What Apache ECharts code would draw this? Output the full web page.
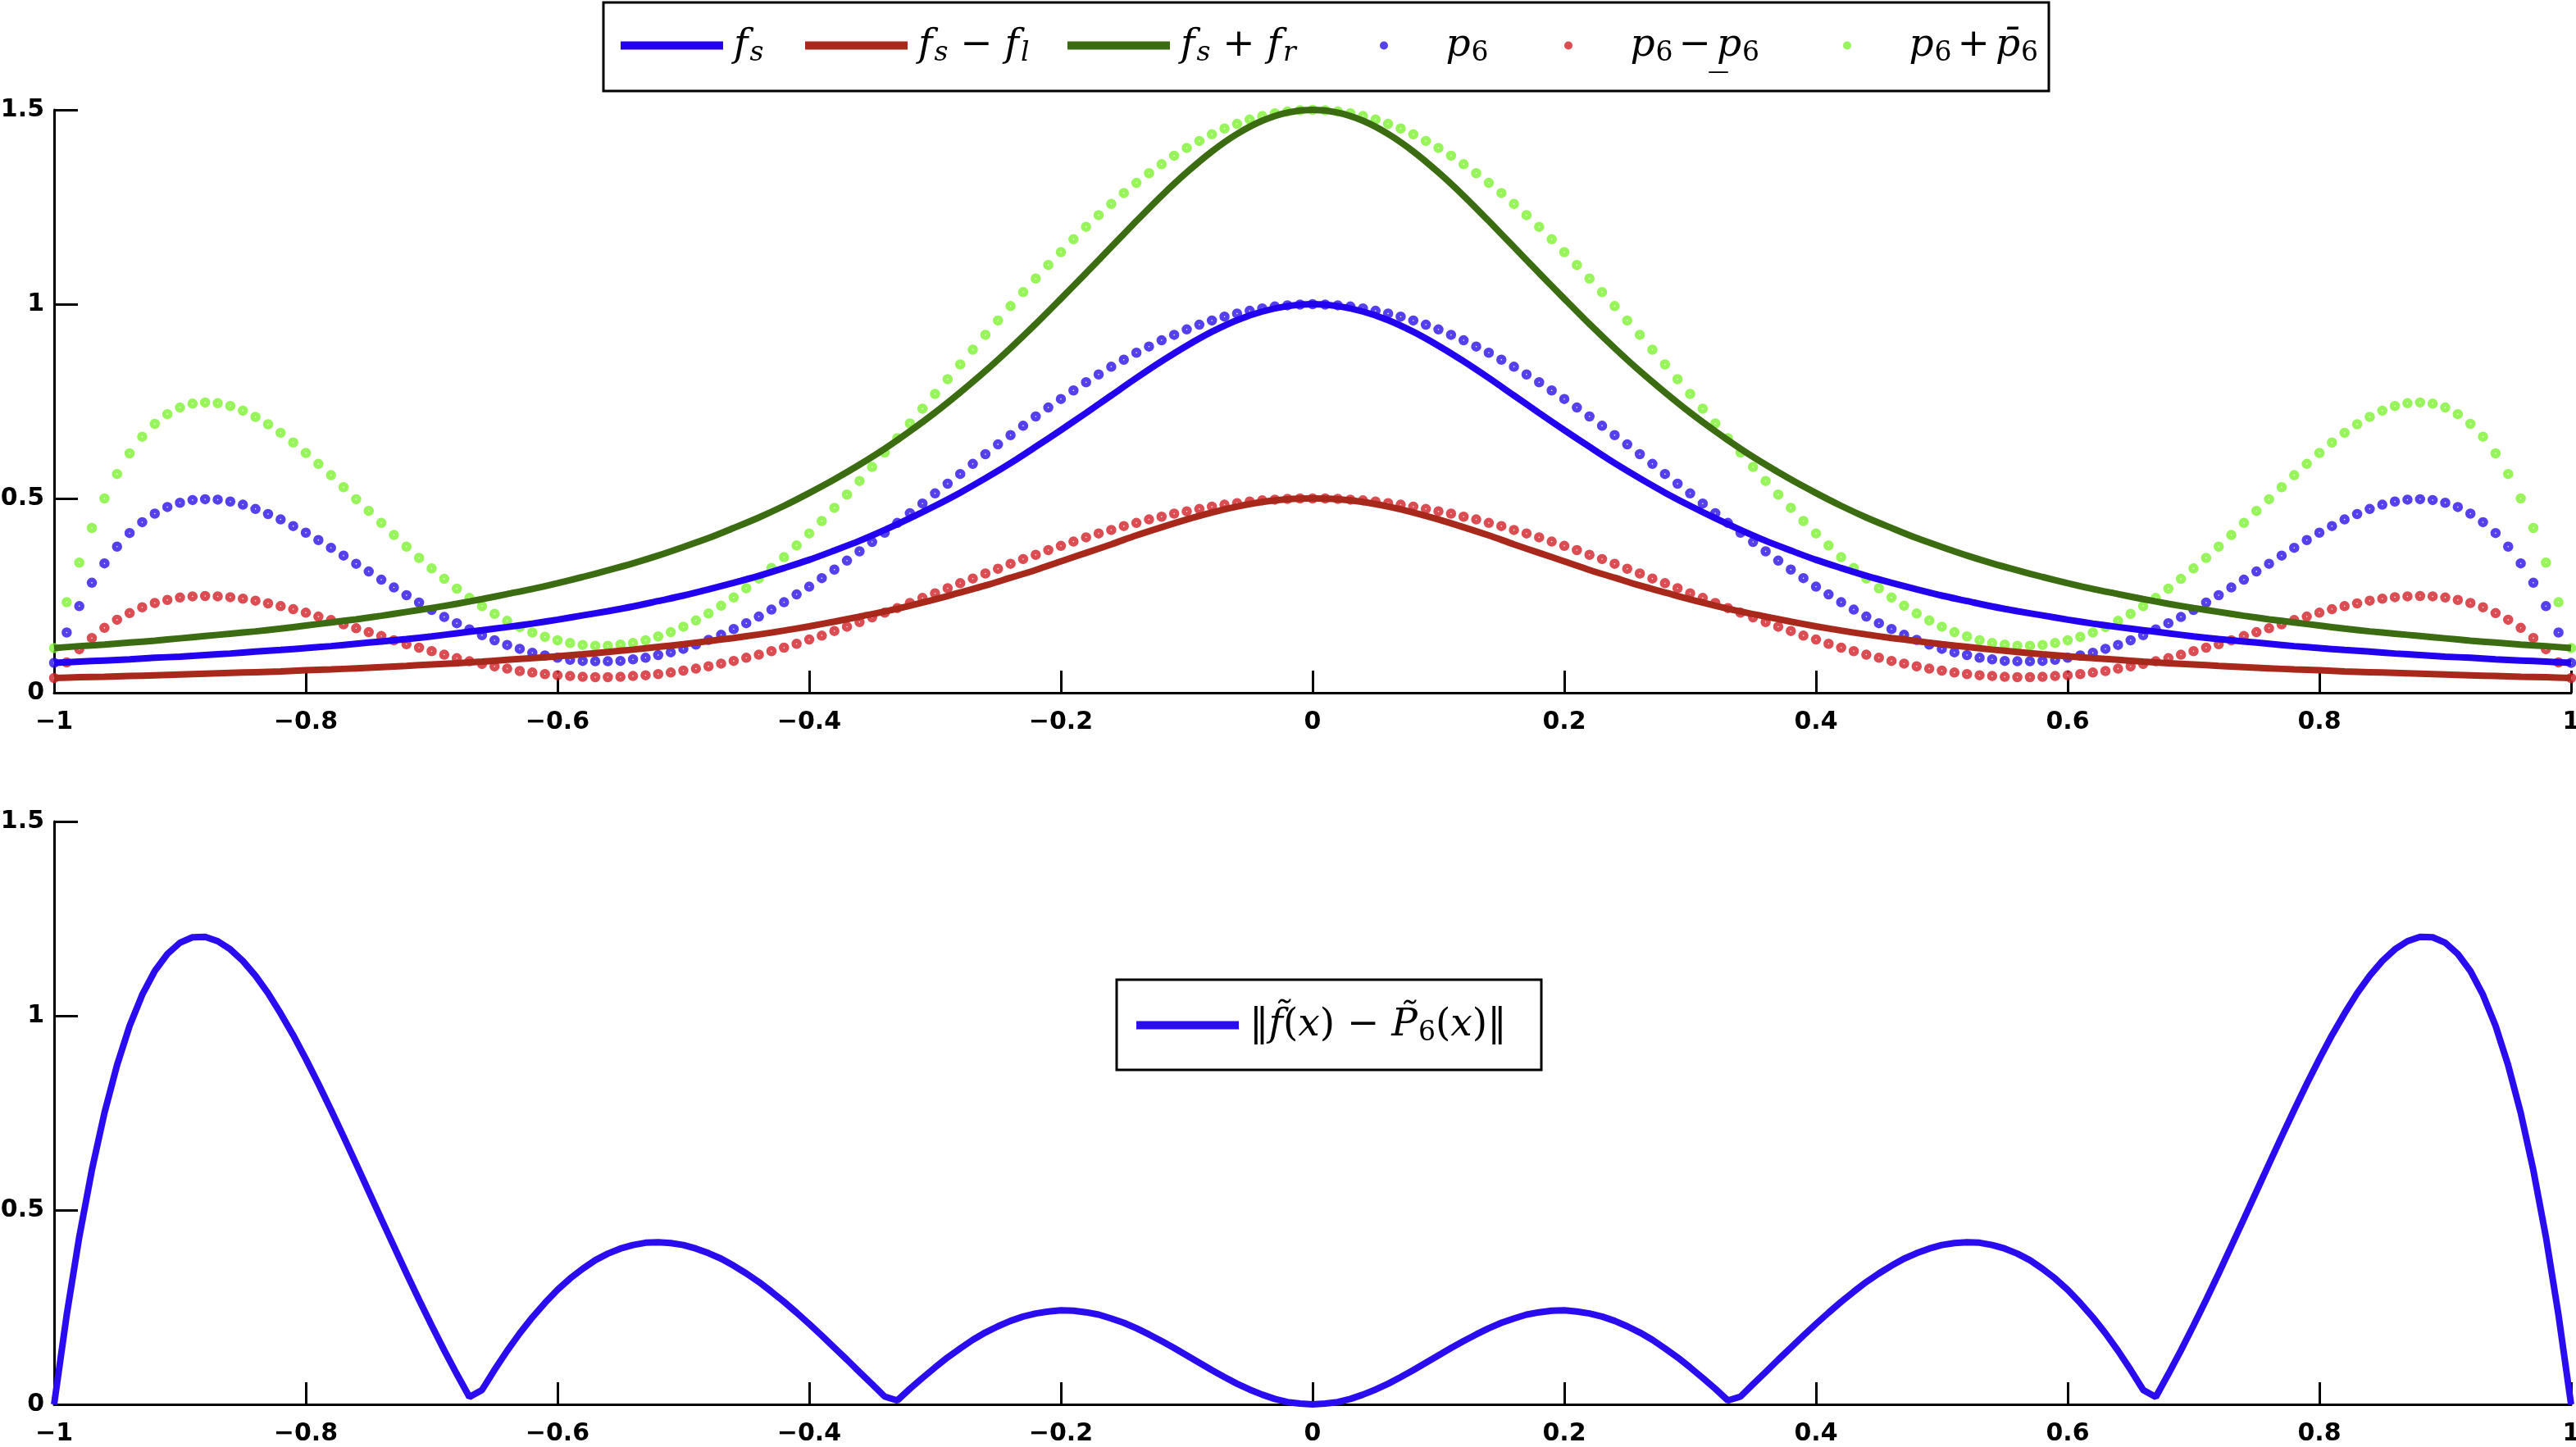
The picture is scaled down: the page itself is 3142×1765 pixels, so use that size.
<!DOCTYPE html>
<html>
<head>
<meta charset="utf-8">
<script src="https://cdn.jsdelivr.net/npm/echarts@6.0.0/dist/echarts.min.js"></script>
<style>
    html, body { margin: 0; padding: 0; background: #fff; }
    #chart { width: 3142px; height: 1765px; }
</style>
</head>
<body>
<div id="chart"></div>
<script>
// x grid shared by the dotted polynomials and the error curve (step 0.01)
const xDots = [
    -1, -0.99, -0.98, -0.97, -0.96, -0.95, -0.94, -0.93, -0.92, -0.91,
    -0.9, -0.89, -0.88, -0.87, -0.86, -0.85, -0.84, -0.83, -0.82, -0.81,
    -0.8, -0.79, -0.78, -0.77, -0.76, -0.75, -0.74, -0.73, -0.72, -0.71,
    -0.7, -0.69, -0.68, -0.67, -0.66, -0.65, -0.64, -0.63, -0.62, -0.61,
    -0.6, -0.59, -0.58, -0.57, -0.56, -0.55, -0.54, -0.53, -0.52, -0.51,
    -0.5, -0.49, -0.48, -0.47, -0.46, -0.45, -0.44, -0.43, -0.42, -0.41,
    -0.4, -0.39, -0.38, -0.37, -0.36, -0.35, -0.34, -0.33, -0.32, -0.31,
    -0.3, -0.29, -0.28, -0.27, -0.26, -0.25, -0.24, -0.23, -0.22, -0.21,
    -0.2, -0.19, -0.18, -0.17, -0.16, -0.15, -0.14, -0.13, -0.12, -0.11,
    -0.1, -0.09, -0.08, -0.07, -0.06, -0.05, -0.04, -0.03, -0.02, -0.01,
    0,
    0.01, 0.02, 0.03, 0.04, 0.05, 0.06, 0.07, 0.08, 0.09, 0.1,
    0.11, 0.12, 0.13, 0.14, 0.15, 0.16, 0.17, 0.18, 0.19, 0.2,
    0.21, 0.22, 0.23, 0.24, 0.25, 0.26, 0.27, 0.28, 0.29, 0.3,
    0.31, 0.32, 0.33, 0.34, 0.35, 0.36, 0.37, 0.38, 0.39, 0.4,
    0.41, 0.42, 0.43, 0.44, 0.45, 0.46, 0.47, 0.48, 0.49, 0.5,
    0.51, 0.52, 0.53, 0.54, 0.55, 0.56, 0.57, 0.58, 0.59, 0.6,
    0.61, 0.62, 0.63, 0.64, 0.65, 0.66, 0.67, 0.68, 0.69, 0.7,
    0.71, 0.72, 0.73, 0.74, 0.75, 0.76, 0.77, 0.78, 0.79, 0.8,
    0.81, 0.82, 0.83, 0.84, 0.85, 0.86, 0.87, 0.88, 0.89, 0.9,
    0.91, 0.92, 0.93, 0.94, 0.95, 0.96, 0.97, 0.98, 0.99, 1
];
const p6 = [
    0.077, 0.155, 0.223, 0.283, 0.333, 0.376, 0.411, 0.439, 0.461, 0.478,
    0.489, 0.496, 0.498, 0.497, 0.492, 0.484, 0.473, 0.460, 0.446, 0.429,
    0.412, 0.393, 0.373, 0.353, 0.332, 0.312, 0.291, 0.271, 0.251, 0.232,
    0.213, 0.195, 0.179, 0.163, 0.148, 0.135, 0.123, 0.113, 0.103, 0.096,
    0.090, 0.085, 0.082, 0.081, 0.081, 0.082, 0.086, 0.090, 0.097, 0.104,
    0.113, 0.124, 0.136, 0.149, 0.164, 0.179, 0.196, 0.214, 0.233, 0.253,
    0.273, 0.295, 0.317, 0.340, 0.364, 0.388, 0.412, 0.437, 0.462, 0.487,
    0.513, 0.538, 0.563, 0.589, 0.614, 0.639, 0.663, 0.687, 0.711, 0.734,
    0.756, 0.778, 0.799, 0.819, 0.839, 0.857, 0.875, 0.891, 0.907, 0.921,
    0.935, 0.947, 0.958, 0.968, 0.976, 0.983, 0.989, 0.994, 0.997, 0.999,
    1.000,
    0.999, 0.997, 0.994, 0.989, 0.983, 0.976, 0.968, 0.958, 0.947, 0.935,
    0.921, 0.907, 0.891, 0.875, 0.857, 0.839, 0.819, 0.799, 0.778, 0.756,
    0.734, 0.711, 0.687, 0.663, 0.639, 0.614, 0.589, 0.563, 0.538, 0.513,
    0.487, 0.462, 0.437, 0.412, 0.388, 0.364, 0.340, 0.317, 0.295, 0.273,
    0.253, 0.233, 0.214, 0.196, 0.179, 0.164, 0.149, 0.136, 0.124, 0.113,
    0.104, 0.097, 0.090, 0.086, 0.082, 0.081, 0.081, 0.082, 0.085, 0.090,
    0.096, 0.103, 0.113, 0.123, 0.135, 0.148, 0.163, 0.179, 0.195, 0.213,
    0.232, 0.251, 0.271, 0.291, 0.312, 0.332, 0.353, 0.373, 0.393, 0.412,
    0.429, 0.446, 0.460, 0.473, 0.484, 0.492, 0.497, 0.498, 0.496, 0.489,
    0.478, 0.461, 0.439, 0.411, 0.376, 0.333, 0.283, 0.223, 0.155, 0.077
];
const p6Low = [
    0.038, 0.078, 0.112, 0.141, 0.167, 0.188, 0.205, 0.220, 0.231, 0.239,
    0.245, 0.248, 0.249, 0.248, 0.246, 0.242, 0.237, 0.230, 0.223, 0.215,
    0.206, 0.196, 0.187, 0.176, 0.166, 0.156, 0.146, 0.135, 0.125, 0.116,
    0.107, 0.098, 0.089, 0.081, 0.074, 0.068, 0.062, 0.056, 0.052, 0.048,
    0.045, 0.043, 0.041, 0.040, 0.040, 0.041, 0.043, 0.045, 0.048, 0.052,
    0.057, 0.062, 0.068, 0.075, 0.082, 0.090, 0.098, 0.107, 0.116, 0.126,
    0.137, 0.147, 0.159, 0.170, 0.182, 0.194, 0.206, 0.218, 0.231, 0.244,
    0.256, 0.269, 0.282, 0.294, 0.307, 0.319, 0.332, 0.344, 0.355, 0.367,
    0.378, 0.389, 0.400, 0.410, 0.419, 0.429, 0.437, 0.446, 0.453, 0.461,
    0.467, 0.473, 0.479, 0.484, 0.488, 0.492, 0.495, 0.497, 0.499, 0.500,
    0.500,
    0.500, 0.499, 0.497, 0.495, 0.492, 0.488, 0.484, 0.479, 0.473, 0.467,
    0.461, 0.453, 0.446, 0.437, 0.429, 0.419, 0.410, 0.400, 0.389, 0.378,
    0.367, 0.355, 0.344, 0.332, 0.319, 0.307, 0.294, 0.282, 0.269, 0.256,
    0.244, 0.231, 0.218, 0.206, 0.194, 0.182, 0.170, 0.159, 0.147, 0.137,
    0.126, 0.116, 0.107, 0.098, 0.090, 0.082, 0.075, 0.068, 0.062, 0.057,
    0.052, 0.048, 0.045, 0.043, 0.041, 0.040, 0.040, 0.041, 0.043, 0.045,
    0.048, 0.052, 0.056, 0.062, 0.068, 0.074, 0.081, 0.089, 0.098, 0.107,
    0.116, 0.125, 0.135, 0.146, 0.156, 0.166, 0.176, 0.187, 0.196, 0.206,
    0.215, 0.223, 0.230, 0.237, 0.242, 0.246, 0.248, 0.249, 0.248, 0.245,
    0.239, 0.231, 0.220, 0.205, 0.188, 0.167, 0.141, 0.112, 0.078, 0.038
];
const p6Up = [
    0.115, 0.233, 0.335, 0.424, 0.500, 0.563, 0.616, 0.659, 0.692, 0.717,
    0.734, 0.744, 0.747, 0.745, 0.738, 0.726, 0.710, 0.691, 0.669, 0.644,
    0.617, 0.589, 0.560, 0.529, 0.498, 0.468, 0.437, 0.406, 0.376, 0.347,
    0.320, 0.293, 0.268, 0.244, 0.223, 0.203, 0.185, 0.169, 0.155, 0.144,
    0.135, 0.128, 0.123, 0.121, 0.121, 0.124, 0.128, 0.135, 0.145, 0.156,
    0.170, 0.186, 0.204, 0.224, 0.245, 0.269, 0.294, 0.321, 0.349, 0.379,
    0.410, 0.442, 0.476, 0.510, 0.545, 0.581, 0.618, 0.655, 0.693, 0.731,
    0.769, 0.807, 0.845, 0.883, 0.921, 0.958, 0.995, 1.031, 1.066, 1.101,
    1.134, 1.167, 1.199, 1.229, 1.258, 1.286, 1.312, 1.337, 1.360, 1.382,
    1.402, 1.420, 1.437, 1.452, 1.464, 1.475, 1.484, 1.491, 1.496, 1.499,
    1.500,
    1.499, 1.496, 1.491, 1.484, 1.475, 1.464, 1.452, 1.437, 1.420, 1.402,
    1.382, 1.360, 1.337, 1.312, 1.286, 1.258, 1.229, 1.199, 1.167, 1.134,
    1.101, 1.066, 1.031, 0.995, 0.958, 0.921, 0.883, 0.845, 0.807, 0.769,
    0.731, 0.693, 0.655, 0.618, 0.581, 0.545, 0.510, 0.476, 0.442, 0.410,
    0.379, 0.349, 0.321, 0.294, 0.269, 0.245, 0.224, 0.204, 0.186, 0.170,
    0.156, 0.145, 0.135, 0.128, 0.124, 0.121, 0.121, 0.123, 0.128, 0.135,
    0.144, 0.155, 0.169, 0.185, 0.203, 0.223, 0.244, 0.268, 0.293, 0.320,
    0.347, 0.376, 0.406, 0.437, 0.468, 0.498, 0.529, 0.560, 0.589, 0.617,
    0.644, 0.669, 0.691, 0.710, 0.726, 0.738, 0.745, 0.747, 0.744, 0.734,
    0.717, 0.692, 0.659, 0.616, 0.563, 0.500, 0.424, 0.335, 0.233, 0.115
];

// x grid of the solid curves (step 0.02)
const xLine = [
    -1, -0.98, -0.96, -0.94, -0.92, -0.9, -0.88, -0.86, -0.84, -0.82,
    -0.8, -0.78, -0.76, -0.74, -0.72, -0.7, -0.68, -0.66, -0.64, -0.62,
    -0.6, -0.58, -0.56, -0.54, -0.52, -0.5, -0.48, -0.46, -0.44, -0.42,
    -0.4, -0.38, -0.36, -0.34, -0.32, -0.3, -0.28, -0.26, -0.24, -0.22,
    -0.2, -0.18, -0.16, -0.14, -0.12, -0.1, -0.08, -0.06, -0.04, -0.02,
    0,
    0.02, 0.04, 0.06, 0.08, 0.1, 0.12, 0.14, 0.16, 0.18, 0.2,
    0.22, 0.24, 0.26, 0.28, 0.3, 0.32, 0.34, 0.36, 0.38, 0.4,
    0.42, 0.44, 0.46, 0.48, 0.5, 0.52, 0.54, 0.56, 0.58, 0.6,
    0.62, 0.64, 0.66, 0.68, 0.7, 0.72, 0.74, 0.76, 0.78, 0.8,
    0.82, 0.84, 0.86, 0.88, 0.9, 0.92, 0.94, 0.96, 0.98, 1
];
const fs = [
    0.077, 0.080, 0.083, 0.086, 0.090, 0.093, 0.097, 0.101, 0.106, 0.110,
    0.115, 0.120, 0.126, 0.132, 0.138, 0.145, 0.153, 0.161, 0.169, 0.178,
    0.188, 0.199, 0.210, 0.222, 0.236, 0.250, 0.266, 0.283, 0.301, 0.321,
    0.342, 0.366, 0.391, 0.419, 0.449, 0.481, 0.515, 0.552, 0.591, 0.633,
    0.676, 0.720, 0.765, 0.810, 0.853, 0.893, 0.929, 0.959, 0.981, 0.995,
    1.000,
    0.995, 0.981, 0.959, 0.929, 0.893, 0.853, 0.810, 0.765, 0.720, 0.676,
    0.633, 0.591, 0.552, 0.515, 0.481, 0.449, 0.419, 0.391, 0.366, 0.342,
    0.321, 0.301, 0.283, 0.266, 0.250, 0.236, 0.222, 0.210, 0.199, 0.188,
    0.178, 0.169, 0.161, 0.153, 0.145, 0.138, 0.132, 0.126, 0.120, 0.115,
    0.110, 0.106, 0.101, 0.097, 0.093, 0.090, 0.086, 0.083, 0.080, 0.077
];
const fsMinusFl = [
    0.038, 0.040, 0.041, 0.043, 0.045, 0.047, 0.049, 0.051, 0.053, 0.055,
    0.058, 0.060, 0.063, 0.066, 0.069, 0.073, 0.076, 0.080, 0.085, 0.089,
    0.094, 0.099, 0.105, 0.111, 0.118, 0.125, 0.133, 0.141, 0.150, 0.160,
    0.171, 0.183, 0.196, 0.209, 0.224, 0.240, 0.258, 0.276, 0.296, 0.316,
    0.338, 0.360, 0.382, 0.405, 0.426, 0.446, 0.464, 0.479, 0.491, 0.498,
    0.500,
    0.498, 0.491, 0.479, 0.464, 0.446, 0.426, 0.405, 0.382, 0.360, 0.338,
    0.316, 0.296, 0.276, 0.258, 0.240, 0.224, 0.209, 0.196, 0.183, 0.171,
    0.160, 0.150, 0.141, 0.133, 0.125, 0.118, 0.111, 0.105, 0.099, 0.094,
    0.089, 0.085, 0.080, 0.076, 0.073, 0.069, 0.066, 0.063, 0.060, 0.058,
    0.055, 0.053, 0.051, 0.049, 0.047, 0.045, 0.043, 0.041, 0.040, 0.038
];
const fsPlusFr = [
    0.115, 0.120, 0.124, 0.129, 0.134, 0.140, 0.146, 0.152, 0.158, 0.165,
    0.173, 0.181, 0.189, 0.198, 0.208, 0.218, 0.229, 0.241, 0.254, 0.267,
    0.282, 0.298, 0.315, 0.333, 0.353, 0.375, 0.398, 0.424, 0.451, 0.481,
    0.514, 0.549, 0.587, 0.628, 0.673, 0.721, 0.773, 0.828, 0.887, 0.949,
    1.014, 1.080, 1.147, 1.214, 1.279, 1.339, 1.393, 1.438, 1.472, 1.493,
    1.500,
    1.493, 1.472, 1.438, 1.393, 1.339, 1.279, 1.214, 1.147, 1.080, 1.014,
    0.949, 0.887, 0.828, 0.773, 0.721, 0.673, 0.628, 0.587, 0.549, 0.514,
    0.481, 0.451, 0.424, 0.398, 0.375, 0.353, 0.333, 0.315, 0.298, 0.282,
    0.267, 0.254, 0.241, 0.229, 0.218, 0.208, 0.198, 0.189, 0.181, 0.173,
    0.165, 0.158, 0.152, 0.146, 0.140, 0.134, 0.129, 0.124, 0.120, 0.115
];

// bottom panel: error norm, on the xDots grid
const errNorm = [
    0, 0.230, 0.431, 0.603, 0.750, 0.873, 0.974, 1.054, 1.115, 1.159,
    1.188, 1.202, 1.203, 1.192, 1.171, 1.141, 1.103, 1.058, 1.006, 0.950,
    0.889, 0.825, 0.758, 0.689, 0.619, 0.548, 0.477, 0.407, 0.337, 0.269,
    0.203, 0.139, 0.078, 0.019, 0.037, 0.089, 0.138, 0.183, 0.224, 0.261,
    0.295, 0.324, 0.349, 0.371, 0.388, 0.401, 0.410, 0.416, 0.417, 0.415,
    0.410, 0.401, 0.389, 0.375, 0.357, 0.337, 0.315, 0.290, 0.264, 0.236,
    0.207, 0.177, 0.146, 0.115, 0.083, 0.052, 0.020, 0.010, 0.040, 0.068,
    0.095, 0.121, 0.144, 0.166, 0.185, 0.201, 0.215, 0.226, 0.234, 0.239,
    0.242, 0.241, 0.237, 0.231, 0.221, 0.210, 0.196, 0.180, 0.163, 0.145,
    0.126, 0.107, 0.088, 0.070, 0.053, 0.038, 0.025, 0.014, 0.006, 0.002,
    0,
    0.002, 0.006, 0.014, 0.025, 0.038, 0.053, 0.070, 0.088, 0.107, 0.126,
    0.145, 0.163, 0.180, 0.196, 0.210, 0.221, 0.231, 0.237, 0.241, 0.242,
    0.239, 0.234, 0.226, 0.215, 0.201, 0.185, 0.166, 0.144, 0.121, 0.095,
    0.068, 0.040, 0.010, 0.020, 0.052, 0.083, 0.115, 0.146, 0.177, 0.207,
    0.236, 0.264, 0.290, 0.315, 0.337, 0.357, 0.375, 0.389, 0.401, 0.410,
    0.415, 0.417, 0.416, 0.410, 0.401, 0.388, 0.371, 0.349, 0.324, 0.295,
    0.261, 0.224, 0.183, 0.138, 0.089, 0.037, 0.019, 0.078, 0.139, 0.203,
    0.269, 0.337, 0.407, 0.477, 0.548, 0.619, 0.689, 0.758, 0.825, 0.889,
    0.950, 1.006, 1.058, 1.103, 1.141, 1.171, 1.192, 1.203, 1.202, 1.188,
    1.159, 1.115, 1.054, 0.974, 0.873, 0.750, 0.603, 0.431, 0.230, 0
];

// legend labels (rich text)
const legendLabels = {
    fs: '{g| }{m|f}{s|s}',
    fsl: '{g| }{m|f}{s|s}{o| − }{m|f}{s|l}',
    fsr: '{g| }{m|f}{s|s}{o| + }{m|f}{s|r}',
    p6: '{g| }{m|p}{n|6}',
    p6l: '{g| }{m|p}{n|6}{q|−}{m|p̲}{n|6}',
    p6u: '{g| }{m|p}{n|6}{q|+}{m|p̄}{n|6}',
    err: '{g| }{o|‖}{m|f̃}{o|(}{m|x}{o|) − }{m|P̃}{n|6}{o|(}{m|x}{o|)‖}'
};

const colors = {
    fs: '#2200f0',
    fsl: '#a8281c',
    fsr: '#3b6c12',
    p6: '#2a10ea',
    p6l: '#d21f28',
    p6u: '#7ef132',
    err: '#2a0cf0'
};

const zip = (xs, ys) => xs.map((x, i) => [x, ys[i]]);

const lineSeries = (name, xs, ys, idx, smooth) => ({
    name: name,
    type: 'line',
    xAxisIndex: idx,
    yAxisIndex: idx,
    showSymbol: false,
    symbol: 'none',
    silent: true,
    smooth: smooth,
    color: colors[name],
    lineStyle: { width: 8, color: colors[name] },
    data: zip(xs, ys)
});

const dotSeries = (name, ys) => ({
    name: name,
    type: 'scatter',
    symbol: 'circle',
    symbolSize: 7,
    silent: true,
    itemStyle: { color: '#fff', borderColor: colors[name], borderWidth: 5.5 },
    data: zip(xDots, ys)
});

const axisFont = {
    fontFamily: 'DejaVu Sans',
    fontWeight: 'bold',
    fontSize: 30,
    color: '#000'
};

const xAxisCfg = (idx) => ({
    type: 'value',
    gridIndex: idx,
    min: -1,
    max: 1,
    interval: 0.2,
    splitLine: { show: false },
    axisLine: { onZero: false, lineStyle: { color: '#000', width: 3 } },
    axisTick: { inside: true, length: 27, lineStyle: { color: '#000', width: 3 } },
    axisLabel: Object.assign({}, axisFont, {
        margin: 21,
        formatter: v => String(Math.round(v * 10) / 10).replace('-', '−')
    })
});

const yAxisCfg = (idx) => ({
    type: 'value',
    gridIndex: idx,
    min: 0,
    max: 1.5,
    interval: 0.5,
    splitLine: { show: false },
    axisLine: { onZero: false, lineStyle: { color: '#000', width: 3 } },
    axisTick: { inside: true, length: 29, lineStyle: { color: '#000', width: 3 } },
    axisLabel: Object.assign({}, axisFont, {
        margin: 12,
        formatter: v => String(Math.round(v * 10) / 10)
    })
});

const richText = {
    g: { width: 8 },
    m: { fontFamily: 'DejaVu Serif', fontStyle: 'italic', fontSize: 47, color: '#000' },
    s: { fontFamily: 'DejaVu Serif', fontStyle: 'italic', fontSize: 33, color: '#000', padding: [20, 0, 0, 2] },
    n: { fontFamily: 'DejaVu Serif', fontSize: 33, color: '#000', padding: [20, 0, 0, 1] },
    o: { fontFamily: 'DejaVu Serif', fontSize: 47, color: '#000' },
    q: { fontFamily: 'DejaVu Serif', fontSize: 47, color: '#000', padding: [0, 7, 0, 7] }
};

// one legend per entry so each sits where the reference puts it
// (dot icons get drawn at the left of their slot, hence the different offsets)
const legendSlots = [
    ['fs', 'rect', 757, 32],
    ['fsl', 'rect', 982, 32],
    ['fsr', 'rect', 1302, 32],
    ['p6', 'circle', 1683, 32],
    ['p6l', 'circle', 1908, 32],
    ['p6u', 'circle', 2248, 32],
    ['err', 'rect', 1386, 1227]
];

const legends = legendSlots.map(([name, icon, left, top]) => {
    const item = { name: name, icon: icon };
    if (icon === 'circle') item.itemStyle = { color: colors[name], borderWidth: 0 };
    return {
        left: left,
        top: top,
        padding: 0,
        orient: 'horizontal',
        itemWidth: 125,
        itemHeight: 10,
        selectedMode: false,
        z: 10,
        formatter: n => legendLabels[n],
        textStyle: { color: '#000', rich: richText },
        data: [item]
    };
});

const chart = echarts.init(document.getElementById('chart'));
chart.setOption({
    animation: false,
    backgroundColor: '#fff',
    grid: [
        { left: 66, right: 6, top: 134, height: 711, outerBoundsMode: 'none' },
        { left: 66, right: 6, top: 1002, height: 711, outerBoundsMode: 'none' }
    ],
    xAxis: [xAxisCfg(0), xAxisCfg(1)],
    yAxis: [yAxisCfg(0), yAxisCfg(1)],
    // legend frames
    graphic: [
        {
            type: 'rect', z: 5,
            shape: { x: 736, y: 3, width: 1763, height: 108 },
            style: { fill: '#fff', stroke: '#000', lineWidth: 3 }
        },
        {
            type: 'rect', z: 5,
            shape: { x: 1362, y: 1195, width: 518, height: 110 },
            style: { fill: '#fff', stroke: '#000', lineWidth: 3 }
        }
    ],
    legend: legends,
    series: [
        lineSeries('fs', xLine, fs, 0, 0.3),
        lineSeries('fsl', xLine, fsMinusFl, 0, 0.3),
        lineSeries('fsr', xLine, fsPlusFr, 0, 0.3),
        dotSeries('p6', p6),
        dotSeries('p6l', p6Low),
        dotSeries('p6u', p6Up),
        lineSeries('err', xDots, errNorm, 1, false)
    ]
});
</script>
</body>
</html>
